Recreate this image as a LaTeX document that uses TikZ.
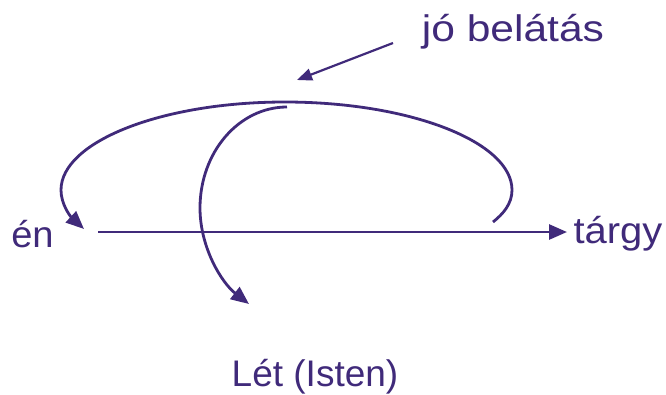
\documentclass[tikz,border=0pt]{standalone}
\usepackage{fontspec}
\setmainfont{Liberation Sans}
\usetikzlibrary{arrows.meta}
\definecolor{ink}{RGB}{64,42,122}
\tikzset{
  lbl/.style={text=ink, font=\fontsize{37}{40}\selectfont, inner sep=0pt, anchor=base},
  curve/.style={draw=ink, line width=2.8pt},
  bigtip/.style={-{Triangle[length=18pt,width=15pt]}},
  smalltip/.style={-{Triangle[length=15pt,width=12pt]}}
}
\begin{document}
\begin{tikzpicture}[x=1pt,y=-1pt]
\useasboundingbox (0,0) rectangle (666,394);
\node[lbl, xscale=1.03] (en) at (32.5,247) {én};
\node[lbl, xscale=1.08] (targy) at (618,243) {tárgy};
\node[lbl, xscale=1.15] (jo) at (513,41) {jó belátás};
\node[lbl, xscale=1.0] (let) at (315,386) {Lét (Isten)};
\coordinate (hs) at (98,232);
\coordinate (he) at (567,232);
\coordinate (bs) at (493,222);
\coordinate (br) at (512,190);
\coordinate (bt) at (285,102);
\coordinate (bl) at (61,190);
\coordinate (be) at (84,229);
\coordinate (cs) at (287,107);
\coordinate (cl) at (200,208);
\coordinate (ce) at (249,304);
\coordinate (as) at (393,43);
\coordinate (ae) at (297,80);
% main axis
\draw[curve, bigtip] (hs) -- (he);
% big loop
\draw[curve, bigtip] (bs) .. controls (503,214) and (512,204) .. (br)
  .. controls (512,142) and (410,102) .. (bt)
  .. controls (161,102) and (61,142) .. (bl)
  .. controls (61,204) and (70,216) .. (be);
% inner curve down to Lét
\draw[curve, bigtip] (cs) .. controls (239,107) and (200,152) .. (cl)
  .. controls (200,248) and (222,283) .. (ce);
% pointer from jó belátás
\draw[curve, line width=2.2pt, smalltip] (as) -- (ae);
\end{tikzpicture}
\end{document}
